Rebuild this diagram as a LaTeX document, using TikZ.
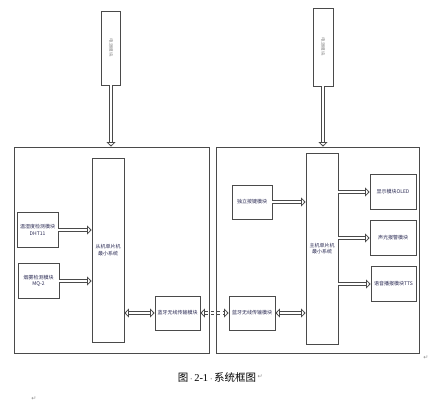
\documentclass[tikz,border=0pt]{standalone}
\usepackage{fontspec}
\newfontfamily\cjk{Noto Sans CJK SC}
\newfontfamily\symf{DejaVu Sans}
\usetikzlibrary{arrows.meta}
\definecolor{edge}{HTML}{4A4A4A}
\definecolor{txt}{HTML}{262650}
\begin{document}
\begin{tikzpicture}[x=1pt,y=-1pt,
  box/.style={draw=edge, line width=0.8pt, inner sep=0pt, align=center,
    font=\cjk\fontsize{5}{6.5}\selectfont, text=txt},
  blk/.style={draw=edge, line width=0.8pt, double, double distance=2.4pt,
    -{Triangle[open, length=4.5pt, width=9pt]}},
  bblk/.style={blk, {Triangle[open, length=4.5pt, width=9pt]}-{Triangle[open, length=4.5pt, width=9pt]}},
  pmark/.style={text=black!45, font=\symf\fontsize{6}{6}\selectfont, inner sep=0pt}]
\useasboundingbox (0,0) rectangle (434,404);
% frames
\node[box, minimum width=195, minimum height=206] (lframe) at (111.5,250) {};
\node[box, minimum width=203, minimum height=206] (rframe) at (317.5,250) {};
% top power boxes
\node[box, minimum width=19, minimum height=74] (topl) at (111,48) {};
\node[font=\cjk\fontsize{4.5}{5}\selectfont, text=black!45, rotate=-90, inner sep=0pt] (topltxt) at (topl.center) {电源模块};
\node[box, minimum width=20, minimum height=78] (topr) at (323,47) {};
\node[font=\cjk\fontsize{4.5}{5}\selectfont, text=black!45, rotate=-90, inner sep=0pt] (toprtxt) at (topr.center) {电源模块};
% left side
\node[box, minimum width=32, minimum height=184] (lmcu) at (108,250) {从机单片机\\最小系统};
\node[box, minimum width=41, minimum height=35] (dht) at (37.5,230) {温湿度检测模块\\DHT11};
\node[box, minimum width=41, minimum height=35] (mq) at (38.5,281) {烟雾检测模块\\MQ-2};
\node[box, minimum width=45, minimum height=34] (lbt) at (177.5,313) {蓝牙无线传输模块};
% right side
\node[box, minimum width=46, minimum height=34] (rbt) at (252,313) {蓝牙无线传输模块};
\node[box, minimum width=32, minimum height=191] (rmcu) at (322,248.5) {主机单片机\\最小系统};
\node[box, minimum width=40, minimum height=34] (key) at (252,202) {独立按键模块};
\node[box, minimum width=46, minimum height=35] (oled) at (393,192) {显示模块OLED};
\node[box, minimum width=46, minimum height=35] (snd) at (393,238) {声光报警模块};
\node[box, minimum width=45, minimum height=35] (tts) at (393.5,284) {语音播报模块TTS};
% arrows
\draw[blk] (topl.south) -- (topl.south |- lframe.north);
\draw[blk] (topr.south) -- (topr.south |- rframe.north);
\draw[blk] (dht.east) -- (dht.east -| lmcu.west);
\draw[blk] (mq.east) -- (mq.east -| lmcu.west);
\draw[bblk] (lbt.west -| lmcu.east) -- (lbt.west);
\draw[bblk, dashed] (lbt.east) -- (rbt.west);
\draw[bblk] (rbt.east) -- (rbt.east -| rmcu.west);
\draw[blk] (key.east) -- (key.east -| rmcu.west);
\draw[blk] (oled.west -| rmcu.east) -- (oled.west);
\draw[blk] (snd.west -| rmcu.east) -- (snd.west);
\draw[blk] (tts.west -| rmcu.east) -- (tts.west);
% caption and marks
\node[inner sep=0pt, font=\cjk\fontsize{10.5}{12}\selectfont] (cap) at (217,377)
  {图{\color{black!45}\fontsize{6}{6}\selectfont·}{\fontspec{Liberation Serif}2-1}{\color{black!45}\fontsize{6}{6}\selectfont·}系统框图};
\node[pmark, anchor=west] (capmark) at ([xshift=1pt]cap.east) {↵};
\node[pmark] (rmark) at (426,358) {↵};
\node[pmark] (bmark) at (34,399) {↵};
\end{tikzpicture}
\end{document}
